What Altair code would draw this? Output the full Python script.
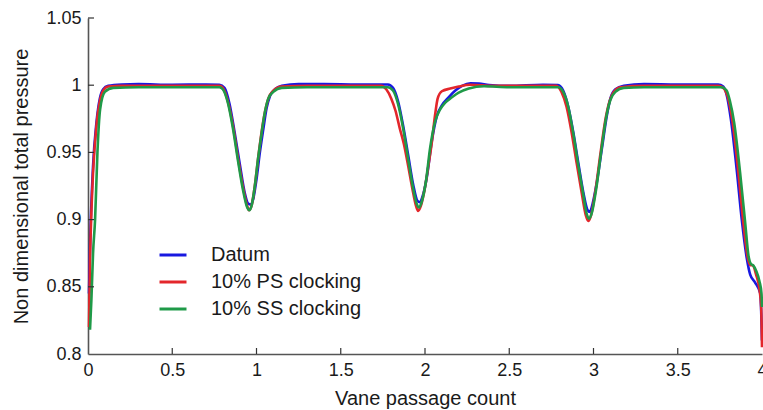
import altair as alt
import pandas as pd

# Total pressure traverse over four vane passages, three clocking positions
series_names = ["Datum", "10% PS clocking", "10% SS clocking"]
series_colors = ["#1818e0", "#e3262b", "#1f9a48"]

datum_x = [0.006, 0.012, 0.018, 0.03, 0.05, 0.07, 0.09, 0.12, 0.2, 0.3, 0.5, 0.7, 0.78,
           0.81, 0.84, 0.87, 0.9, 0.93, 0.95, 0.965, 0.98, 1.0, 1.02, 1.04, 1.06, 1.08,
           1.11, 1.15, 1.25, 1.4, 1.6, 1.78, 1.81, 1.84, 1.87, 1.9, 1.93, 1.955, 1.97,
           1.985, 2.01, 2.04, 2.07, 2.1, 2.14, 2.18, 2.22, 2.27, 2.32, 2.38, 2.5, 2.7,
           2.79, 2.82, 2.85, 2.88, 2.91, 2.94, 2.965, 2.978, 2.995, 3.02, 3.05, 3.08,
           3.1, 3.13, 3.18, 3.3, 3.5, 3.74, 3.77, 3.79, 3.815, 3.85, 3.88, 3.91, 3.93,
           3.96, 3.99, 4.0]
datum_y = [0.845, 0.88, 0.905, 0.94, 0.972, 0.99, 0.997, 0.9995, 1.0005, 1.0008, 1.0003,
           1.0005, 1.0003, 0.998, 0.986, 0.965, 0.942, 0.92, 0.912, 0.9112, 0.915, 0.93,
           0.95, 0.967, 0.983, 0.992, 0.997, 0.9995, 1.0008, 1.0008, 1.0005, 1.0005,
           0.998, 0.988, 0.97, 0.948, 0.926, 0.914, 0.913, 0.917, 0.931, 0.958, 0.977,
           0.985, 0.991, 0.996, 0.9995, 1.0015, 1.0012, 1.0002, 0.9995, 1.0003, 1.0002,
           0.996, 0.984, 0.965, 0.942, 0.92, 0.907, 0.9057, 0.912, 0.928, 0.953, 0.978,
           0.99, 0.997, 0.9995, 1.0008, 1.0005, 1.0005, 0.999, 0.993, 0.975, 0.937, 0.9,
           0.871, 0.859, 0.853, 0.845, 0.81]

ps_x = [0.006, 0.012, 0.02, 0.03, 0.05, 0.07, 0.09, 0.12, 0.2, 0.4, 0.6, 0.78, 0.8, 0.83,
        0.86, 0.89, 0.92, 0.945, 0.955, 0.97, 0.99, 1.01, 1.03, 1.05, 1.07, 1.1, 1.15,
        1.3, 1.74, 1.77, 1.8, 1.825, 1.85, 1.875, 1.9, 1.925, 1.945, 1.959, 1.975, 2.0,
        2.02, 2.04, 2.06, 2.075, 2.1, 2.15, 2.2, 2.27, 2.4, 2.78, 2.81, 2.84, 2.87, 2.9,
        2.93, 2.955, 2.969, 2.985, 3.01, 3.04, 3.07, 3.095, 3.12, 3.16, 3.3, 3.74, 3.77,
        3.795, 3.825, 3.86, 3.89, 3.915, 3.93, 3.945, 3.965, 3.985, 3.995, 4.0]
ps_y = [0.82, 0.87, 0.905, 0.935, 0.97, 0.988, 0.996, 0.999, 0.9995, 0.9995, 0.9995,
        0.9995, 0.998, 0.988, 0.97, 0.946, 0.924, 0.91, 0.907, 0.91, 0.925, 0.946, 0.965,
        0.98, 0.99, 0.996, 0.999, 0.9995, 0.9995, 0.997, 0.99, 0.981, 0.968, 0.956, 0.94,
        0.923, 0.911, 0.9064, 0.91, 0.924, 0.94, 0.957, 0.978, 0.99, 0.9955, 0.9975,
        0.999, 1.0003, 0.9995, 0.9995, 0.995, 0.984, 0.965, 0.942, 0.92, 0.903, 0.899,
        0.903, 0.92, 0.948, 0.974, 0.988, 0.995, 0.9985, 0.9995, 0.9995, 0.998, 0.992,
        0.973, 0.935, 0.897, 0.872, 0.866, 0.866, 0.859, 0.848, 0.835, 0.805]

ss_x = [0.012, 0.02, 0.03, 0.042, 0.056, 0.072, 0.1, 0.15, 0.3, 0.5, 0.78, 0.8, 0.83,
        0.86, 0.89, 0.92, 0.945, 0.957, 0.972, 0.99, 1.01, 1.03, 1.05, 1.07, 1.1, 1.15,
        1.3, 1.78, 1.81, 1.84, 1.87, 1.9, 1.93, 1.95, 1.965, 1.98, 2.005, 2.03, 2.06,
        2.09, 2.12, 2.16, 2.2, 2.26, 2.35, 2.5, 2.79, 2.82, 2.85, 2.88, 2.91, 2.94, 2.96,
        2.973, 2.99, 3.015, 3.045, 3.075, 3.1, 3.13, 3.18, 3.3, 3.76, 3.79, 3.81, 3.835,
        3.87, 3.9, 3.92, 3.935, 3.948, 3.965, 3.985, 3.997, 4.0]
ss_y = [0.818, 0.84, 0.875, 0.9, 0.95, 0.982, 0.995, 0.998, 0.9985, 0.9985, 0.9985,
        0.997, 0.987, 0.968, 0.944, 0.922, 0.909, 0.907, 0.911, 0.925, 0.946, 0.964,
        0.98, 0.99, 0.995, 0.998, 0.9985, 0.9985, 0.996, 0.986, 0.968, 0.945, 0.923,
        0.912, 0.909, 0.913, 0.928, 0.953, 0.973, 0.982, 0.987, 0.991, 0.9945, 0.9975,
        0.9992, 0.9985, 0.9985, 0.995, 0.984, 0.964, 0.94, 0.918, 0.904, 0.9007, 0.905,
        0.922, 0.95, 0.976, 0.989, 0.995, 0.998, 0.9985, 0.9985, 0.996, 0.988, 0.972,
        0.935, 0.898, 0.873, 0.867, 0.866, 0.862, 0.854, 0.845, 0.835]

x_ticks = [0, 0.5, 1, 1.5, 2, 2.5, 3, 3.5, 4]
y_ticks = [0.8, 0.85, 0.9, 0.95, 1, 1.05]

FONT = "Liberation Sans"
W, H = 674, 336

frames = []
for name, xs, ys in [(series_names[0], datum_x, datum_y),
                     (series_names[1], ps_x, ps_y),
                     (series_names[2], ss_x, ss_y)]:
    frames.append(pd.DataFrame({"x": xs, "y": ys, "series": name}))
df = pd.concat(frames, ignore_index=True)

x_scale = alt.Scale(domain=[0, 4], nice=False, zero=False)
y_scale = alt.Scale(domain=[0.8, 1.05], nice=False, zero=False)
color_scale = alt.Scale(domain=series_names, range=series_colors)


def series_line(name):
    return alt.Chart(df).transform_filter(alt.datum.series == name).mark_line(
        strokeWidth=2.6, interpolate="monotone"
    ).encode(
        x=alt.X("x:Q", scale=x_scale, title="Vane passage count",
                axis=alt.Axis(values=x_ticks, format="~g")),
        y=alt.Y("y:Q", scale=y_scale, title="Non dimensional total pressure",
                axis=alt.Axis(values=y_ticks, format="~g")),
        color=alt.Color("series:N", scale=color_scale, title=None,
                        sort=series_names),
    )


lines = [series_line(n) for n in series_names]

# inward-pointing tick marks
xt = pd.DataFrame({"t": [v for v in x_ticks if 0 < v < 4]})
yt = pd.DataFrame({"t": [v for v in y_ticks if v > 0.8]})
x_tick_marks = alt.Chart(xt).mark_rule(color="#333", strokeWidth=1.2).encode(
    x=alt.X("t:Q", scale=x_scale), y=alt.value(H - 6), y2=alt.value(H)
)
y_tick_marks = alt.Chart(yt).mark_rule(color="#333", strokeWidth=1.2).encode(
    y=alt.Y("t:Q", scale=y_scale), x=alt.value(0), x2=alt.value(6)
)

chart = alt.layer(*lines, x_tick_marks, y_tick_marks).properties(
    width=W, height=H,
    padding={"left": 88, "top": 18, "right": 1, "bottom": 56},
    autosize=alt.AutoSizeParams(type="none"),
).configure_view(stroke=None).configure_axis(
    grid=False, ticks=False, domainColor="#555", domainWidth=1.6,
    labelFont=FONT, labelFontSize=18, labelColor="#1a1a1a",
    titleFont=FONT, titleFontSize=20, titleFontWeight="normal", titleColor="#1a1a1a",
).configure_axisX(
    labelPadding=7, titlePadding=9, labelFlush=False,
).configure_axisY(
    labelPadding=7, titlePadding=14,
).configure_legend(
    orient="none", legendX=70, legendY=222,
    symbolType="stroke", symbolStrokeWidth=3, symbolSize=729,
    labelFont=FONT, labelFontSize=20, labelColor="#1a1a1a",
    labelOffset=23, rowPadding=2, padding=0,
)

chart.save("out.html", embed_options={"renderer": "svg", "actions": False})
